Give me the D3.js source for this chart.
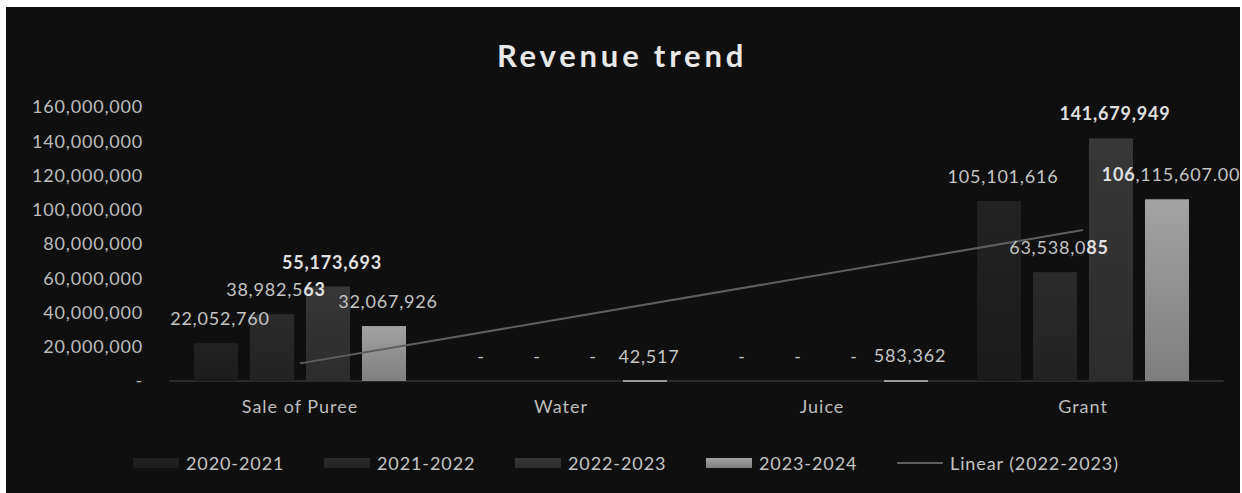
<!DOCTYPE html>
<html>
<head>
<meta charset="utf-8">
<script src="https://cdn.jsdelivr.net/npm/d3@7"></script>
<style>
  html, body { margin: 0; padding: 0; background: #ffffff; }
  svg { display: block; }
  text { font-family: Lato, "Open Sans", sans-serif; }
</style>
</head>
<body>
<svg id="chart" width="1242" height="493"></svg>
<script>
// ---- data ----
const categories = ["Sale of Puree", "Water", "Juice", "Grant"];
const seriesNames = ["2020-2021", "2021-2022", "2022-2023", "2023-2024"];
const values2020 = [22052760, 0, 0, 105101616];
const values2021 = [38982563, 0, 0, 63538085];
const values2022 = [55173693, 0, 0, 141679949];
const values2023 = [32067926, 42517, 583362, 106115607];
const yTicks = [0, 20000000, 40000000, 60000000, 80000000, 100000000, 120000000, 140000000, 160000000];
const title = "Revenue trend";
const trendSeries = "2022-2023";
const trendLabel = "Linear (2022-2023)";
// labels shown with two decimals: [category, series]
const decimalLabels = [["Grant", "2023-2024"]];
// bold character ranges in labels: [category, series, start, end]
const boldRanges = [
  ["Sale of Puree", "2022-2023", 0, 10],
  ["Grant", "2022-2023", 0, 11],
  ["Grant", "2023-2024", 0, 3],
  ["Sale of Puree", "2021-2022", 8, 10],
  ["Grant", "2021-2022", 8, 10]
];

const seriesValues = [values2020, values2021, values2022, values2023];

// ---- styles ----
const seriesColors = {
  "2020-2021": ["#222222", "#1b1b1b"],
  "2021-2022": ["#2b2b2b", "#222222"],
  "2022-2023": ["#373737", "#2c2c2c"],
  "2023-2024": ["#a3a3a3", "#7e7e7e"]
};

const svg = d3.select("#chart");
const W = 1242, H = 493;

svg.append("rect").attr("x", 6).attr("y", 7).attr("width", W - 8).attr("height", H - 7).attr("fill", "#0f0f0f");

const defs = svg.append("defs");
seriesNames.forEach((s, i) => {
  const g = defs.append("linearGradient").attr("id", "grad" + i)
    .attr("x1", 0).attr("y1", 0).attr("x2", 0).attr("y2", 1);
  g.append("stop").attr("offset", "0%").attr("stop-color", seriesColors[s][0]);
  g.append("stop").attr("offset", "100%").attr("stop-color", seriesColors[s][1]);
});

// ---- scales ----
const y = d3.scaleLinear().domain([0, 160000000]).range([381, 107]);
const x0 = d3.scaleBand().domain(categories).range([169.5, 1213.5]).padding(0);
const x1 = d3.scaleBand().domain(seriesNames).range([0, x0.bandwidth()])
  .paddingInner(0.214).paddingOuter(0.4375);

// ---- title ----
svg.append("text").attr("x", 622).attr("y", 67).attr("text-anchor", "middle")
  .attr("fill", "#e8e8e8").attr("font-size", 31).attr("font-weight", "bold")
  .attr("letter-spacing", 3.8).text(title);

// ---- y axis ----
const yAxis = d3.axisLeft(y).tickValues(yTicks)
  .tickFormat(d => d === 0 ? "-" : d3.format(",")(d)).tickSize(0).tickPadding(0);
const yg = svg.append("g").attr("transform", "translate(143,0)").call(yAxis);
yg.select(".domain").remove();
yg.selectAll("text").attr("fill", "#bdbdbd").attr("font-size", 18)
  .attr("letter-spacing", 0.8).attr("font-family", "Lato, sans-serif");

// ---- baseline ----
svg.append("line").attr("x1", x0.range()[0]).attr("x2", x0.range()[1] + 10)
  .attr("y1", y(0)).attr("y2", y(0)).attr("stroke", "#353535").attr("stroke-width", 1.5);

// ---- x axis ----
const xAxis = d3.axisBottom(x0).tickSize(0).tickPadding(0);
const xg = svg.append("g").attr("transform", "translate(0,400)").call(xAxis);
xg.select(".domain").remove();
xg.selectAll("text").attr("fill", "#bdbdbd").attr("font-size", 18)
  .attr("letter-spacing", 1).attr("font-family", "Lato, sans-serif");

// ---- bars ----
const rows = [];
categories.forEach((c, ci) => {
  seriesNames.forEach((s, si) => {
    rows.push({ cat: c, ser: s, si: si, v: seriesValues[si][ci] });
  });
});

svg.append("g").selectAll("rect").data(rows).join("rect")
  .attr("x", d => x0(d.cat) + x1(d.ser))
  .attr("y", d => y(d.v))
  .attr("width", x1.bandwidth())
  .attr("height", d => y(0) - y(d.v))
  .attr("fill", d => "url(#grad" + d.si + ")");

// tiny bars underline (visible highlight for small 2023-2024 values)
svg.append("g").selectAll("line").data(rows.filter(d => d.v > 0 && y(0) - y(d.v) < 2)).join("line")
  .attr("x1", d => x0(d.cat) + x1(d.ser))
  .attr("x2", d => x0(d.cat) + x1(d.ser) + x1.bandwidth())
  .attr("y1", y(0)).attr("y2", y(0))
  .attr("stroke", "#9a9a9a").attr("stroke-width", 2);

// ---- trend line ----
const ti = seriesNames.indexOf(trendSeries);
const tv = seriesValues[ti];
const xs = categories.map((c, i) => i + 1);
const mx = d3.mean(xs), my = d3.mean(tv);
const slope = d3.sum(xs.map((xv, i) => (xv - mx) * (tv[i] - my))) / d3.sum(xs.map(xv => (xv - mx) ** 2));
const icpt = my - slope * mx;
const cx = c => x0(c) + x0.bandwidth() / 2;
svg.append("line")
  .attr("x1", cx(categories[0])).attr("y1", y(icpt + slope * 1))
  .attr("x2", cx(categories[categories.length - 1])).attr("y2", y(icpt + slope * categories.length))
  .attr("stroke", "#5e5e5e").attr("stroke-width", 2);

// ---- data labels ----
function labelText(d) {
  if (d.v === 0) return "-";
  const dec = decimalLabels.some(p => p[0] === d.cat && p[1] === d.ser);
  return d3.format(dec ? ",.2f" : ",")(d.v);
}
const lg = svg.append("g");
rows.forEach(d => {
  const t = labelText(d);
  const txt = lg.append("text")
    .attr("x", x0(d.cat) + x1(d.ser) + x1.bandwidth() / 2 + 4)
    .attr("y", y(d.v) - 18)
    .attr("text-anchor", "middle")
    .attr("fill", "#c4c4c4").attr("font-size", 18).attr("letter-spacing", 0.8);
  const br = boldRanges.find(b => b[0] === d.cat && b[1] === d.ser);
  if (br) {
    const parts = [t.slice(0, br[2]), t.slice(br[2], br[3]), t.slice(br[3])];
    parts.forEach((p, pi) => {
      if (p.length) txt.append("tspan").attr("font-weight", pi === 1 ? "bold" : "normal")
        .attr("fill", pi === 1 ? "#e0e0e0" : "#c4c4c4").text(p);
    });
  } else {
    txt.text(t);
  }
});

// ---- legend ----
const legendItems = seriesNames.map((s, i) => ({ name: s, type: "bar", i: i }))
  .concat([{ name: trendLabel, type: "line", i: seriesNames.length }]);
const lx = d3.scaleLinear().domain([0, 1]).range([133, 324]);
const leg = svg.append("g").selectAll("g").data(legendItems).join("g")
  .attr("transform", d => `translate(${lx(d.i)},463)`);
leg.filter(d => d.type === "bar").append("rect")
  .attr("x", 0).attr("y", -5).attr("width", 46).attr("height", 10)
  .attr("fill", d => "url(#grad" + d.i + ")");
leg.filter(d => d.type === "line").append("line")
  .attr("x1", 0).attr("x2", 46).attr("y1", 0).attr("y2", 0)
  .attr("stroke", "#5e5e5e").attr("stroke-width", 2);
leg.append("text").attr("x", 53).attr("y", 6.5)
  .attr("fill", "#c4c4c4").attr("font-size", 18).attr("letter-spacing", 0.9)
  .text(d => d.name);
</script>
</body>
</html>
